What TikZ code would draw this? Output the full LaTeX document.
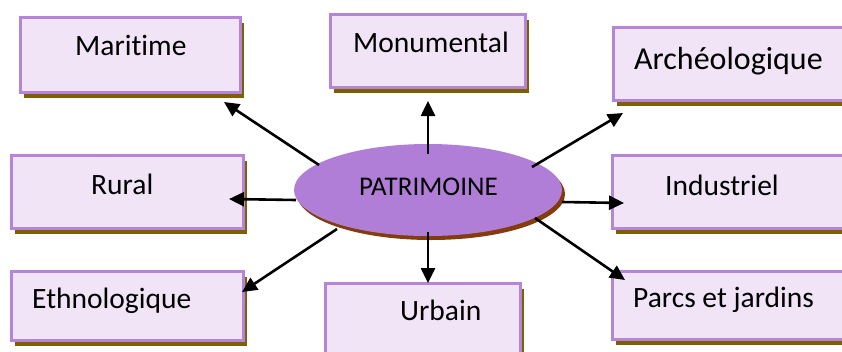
\documentclass[tikz,border=0pt]{standalone}
\usepackage{fontspec}
\setmainfont{Carlito}[Ligatures=NoCommon]
\usetikzlibrary{arrows.meta,shapes.geometric}
\definecolor{boxfill}{HTML}{F0E4F6}
\definecolor{boxline}{HTML}{B585DA}
\definecolor{boxshadow}{HTML}{7F6000}
\definecolor{ovalfill}{HTML}{B07ED6}
\definecolor{ovalshadow}{HTML}{843C0C}
\tikzset{
  x=1pt, y=-1pt,
  catbox/.style={draw=boxline, line width=3pt, fill=boxfill},
  boxshade/.style={fill=boxshadow},
  label/.style={anchor=base west, inner sep=0pt, font=\fontsize{29.5}{31}\selectfont},
  link/.style={line width=2.6pt, -{Triangle[length=15pt,width=14pt]}}
}
\newcommand{\catrect}[4]{%
  \fill[boxshade] (#1+4,#2+6) rectangle (#3+4,#4+6);
  \draw[catbox] (#1,#2) rectangle (#3,#4);
}
\begin{document}
\begin{tikzpicture}
\useasboundingbox (0,0) rectangle (842,351);

% category boxes with their drop shadows
\catrect{20}{17}{240}{92}
\catrect{330}{14}{525}{87}
\catrect{613}{27}{850}{100}
\catrect{11}{155}{243}{228}
\catrect{612}{155}{850}{228}
\catrect{11}{271}{243}{340}
\catrect{325}{283}{520}{360}
\catrect{612}{271}{850}{339}

% central oval
\fill[ovalshadow] (431,194) ellipse [x radius=134, y radius=46];
\node[ellipse, fill=ovalfill, minimum width=268pt, minimum height=92pt, inner sep=0pt] (pat) at (428,190) {};
\node[label, font=\fontsize{27}{29}\selectfont] (patT) at (359,195) {PATRIMOINE};

% labels
\node[label] (mar) at (75,55) {Maritime};
\node[label] (mon) at (353,52) {Monumental};
\node[label, font=\fontsize{32}{34}\selectfont] (arc) at (634,69) {Archéologique};
\node[label] (rur) at (91,194) {Rural};
\node[label] (ind) at (665,195) {Industriel};
\node[label] (eth) at (32,308) {Ethnologique};
\node[label] (urb) at (400,320) {Urbain};
\node[label] (par) at (633,307) {Parcs et jardins};

% connector end points
\coordinate (s1) at (319,165); \coordinate (t1) at (224,102);
\coordinate (s2) at (428,154); \coordinate (t2) at (428,101);
\coordinate (s3) at (532,167); \coordinate (t3) at (623,113);
\coordinate (s4) at (296,200); \coordinate (t4) at (229,199);
\coordinate (s5) at (562,202); \coordinate (t5) at (624,203);
\coordinate (s6) at (337,229); \coordinate (t6) at (242,292);
\coordinate (s7) at (428,232); \coordinate (t7) at (428,283);
\coordinate (s8) at (535,218); \coordinate (t8) at (625,280);

\foreach \i in {1,...,8} \draw[link] (s\i) -- (t\i);
\end{tikzpicture}
\end{document}
